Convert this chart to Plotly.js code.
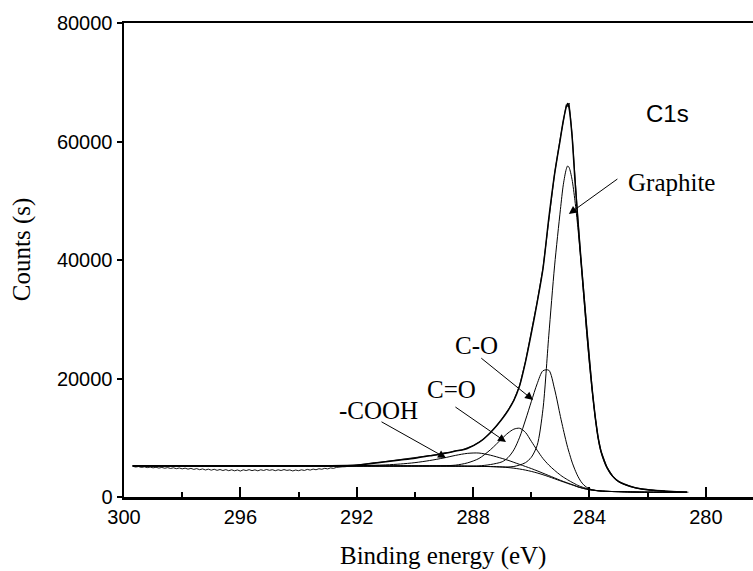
<!DOCTYPE html>
<html>
<head>
<meta charset="utf-8">
<script src="https://cdn.plot.ly/plotly-3.0.1.min.js"></script>
<style>html,body{margin:0;padding:0;background:#fff;}#chart{width:753px;height:571px;}</style>
</head>
<body>
<div id="chart"></div>
<script>
// Binding energy grid of the fitted curves (eV)
const energy = [299.7, 299, 298, 297, 296, 295, 294, 293, 292, 291, 290.5, 290, 289.5, 289, 288.6, 288.2, 287.8, 287.4, 287.0, 286.8, 286.6, 286.4, 286.2, 286.0, 285.8, 285.6, 285.4, 285.2, 285.0, 284.9, 284.8, 284.75, 284.7, 284.6, 284.5, 284.4, 284.3, 284.2, 284.1, 284.0, 283.9, 283.8, 283.7, 283.6, 283.4, 283.2, 283.0, 282.6, 282.2, 281.8, 281.4, 281.0, 280.65];

// Shirley-type background
const background = [5250, 5250, 5245, 5240, 5240, 5235, 5235, 5230, 5230, 5230, 5230, 5230, 5230, 5225, 5215, 5195, 5170, 5130, 5050, 4970, 4860, 4720, 4540, 4320, 4060, 3760, 3430, 3080, 2720, 2550, 2380, 2295, 2210, 2050, 1880, 1700, 1560, 1430, 1320, 1220, 1150, 1090, 1040, 1000, 950, 920, 900, 850, 820, 805, 795, 790, 785];

// -COOH component (on background)
const cooh = [5250, 5250, 5245, 5240, 5240, 5235, 5240, 5250, 5290, 5420, 5570, 5800, 6150, 6600, 7030, 7360, 7420, 7050, 6500, 6200, 5850, 5500, 5150, 4800, 4420, 4020, 3620, 3220, 2820, 2630, 2450, 2360, 2270, 2100, 1920, 1730, 1585, 1450, 1335, 1232, 1158, 1095, 1044, 1003, 952, 921, 901, 850, 820, 805, 795, 790, 785];

// C=O component
const cdo = [5250, 5250, 5245, 5240, 5240, 5235, 5235, 5230, 5230, 5230, 5230, 5235, 5245, 5275, 5380, 5750, 6500, 8000, 9900, 10800, 11450, 11600, 10900, 9400, 7900, 6500, 5400, 4500, 3700, 3350, 3050, 2900, 2760, 2480, 2220, 1960, 1760, 1590, 1440, 1310, 1210, 1130, 1070, 1020, 960, 925, 903, 850, 820, 805, 795, 790, 785];

// C-O component
const co = [5250, 5250, 5245, 5240, 5240, 5235, 5235, 5230, 5230, 5230, 5230, 5230, 5230, 5225, 5215, 5210, 5250, 5480, 5950, 6650, 7950, 10100, 13000, 16100, 19100, 21300, 21400, 18200, 13600, 11400, 9300, 8350, 7500, 5900, 4600, 3500, 2650, 2050, 1650, 1380, 1220, 1120, 1055, 1012, 955, 922, 902, 850, 820, 805, 795, 790, 785];

// Graphite component
const graphite = [5250, 5250, 5245, 5240, 5240, 5235, 5235, 5230, 5230, 5230, 5230, 5230, 5230, 5225, 5215, 5195, 5170, 5140, 5080, 5070, 5150, 5400, 5800, 6700, 8700, 14800, 27200, 39000, 48500, 52700, 55300, 55870, 55600, 53600, 50000, 45500, 40000, 34000, 28000, 22500, 17500, 13200, 9800, 7500, 4900, 3400, 2550, 1750, 1320, 1100, 960, 860, 800];

// Sum of the fit (envelope)
const envelope = [5250, 5250, 5250, 5250, 5250, 5250, 5255, 5275, 5400, 5950, 6250, 6550, 6950, 7350, 7750, 8200, 9200, 10900, 13200, 14600, 16300, 18800, 22800, 27600, 32800, 38500, 47000, 54500, 60500, 63500, 65800, 66400, 65600, 61000, 53500, 46800, 40500, 34500, 28400, 22800, 17800, 13400, 9950, 7650, 5000, 3480, 2620, 1800, 1350, 1130, 990, 880, 800];

// Measured spectrum
const rawEnergy = [299.7, 299.6, 299.5, 299.4, 299.3, 299.2, 299.1, 299.0, 298.9, 298.8, 298.7, 298.6, 298.5, 298.4, 298.3, 298.2, 298.1, 298.0, 297.9, 297.8, 297.7, 297.6, 297.5, 297.4, 297.3, 297.2, 297.1, 297.0, 296.9, 296.8, 296.7, 296.6, 296.5, 296.4, 296.3, 296.2, 296.1, 296.0, 295.9, 295.8, 295.7, 295.6, 295.5, 295.4, 295.3, 295.2, 295.1, 295.0, 294.9, 294.8, 294.7, 294.6, 294.5, 294.4, 294.3, 294.2, 294.1, 294.0, 293.9, 293.8, 293.7, 293.6, 293.5, 293.4, 293.3, 293.2, 293.1, 293.0, 292.9, 292.8, 292.7, 292.6, 292.5, 292.4, 292.3, 292.2, 292.1,
  292.0, 291.8, 291.6, 291.4, 291.2, 291.0, 290.8, 290.6, 290.4, 290.2, 290.0, 289.8, 289.6, 289.4, 289.2, 289.0, 288.8, 288.6, 288.4, 288.2, 288.0, 287.8, 287.6, 287.4, 287.2, 287.0, 286.8, 286.6, 286.4, 286.2, 286.0, 285.8, 285.6, 285.4, 285.2, 285.0, 284.9, 284.8, 284.75, 284.7, 284.6, 284.5, 284.4, 284.3, 284.2, 284.1, 284.0, 283.9, 283.8, 283.7, 283.6, 283.4, 283.2, 283.0, 282.8, 282.6, 282.4, 282.2, 282.0, 281.8, 281.6, 281.4, 281.2, 281.0, 280.8, 280.6];
const rawCounts = [5180, 5060, 5140, 4990, 5090, 4960, 5050, 4920, 5020, 4880, 4990, 4850, 4960, 4820, 4930, 4780, 4900, 4750, 4870, 4700, 4830, 4660, 4790, 4610, 4740, 4560, 4700, 4530, 4680, 4500, 4640, 4470, 4620, 4440, 4590, 4420, 4560, 4380, 4590, 4460, 4620, 4450, 4580, 4420, 4600, 4480, 4640, 4500, 4610, 4440, 4590, 4470, 4630, 4490, 4570, 4400, 4550, 4440, 4590, 4480, 4660, 4540, 4710, 4600, 4770, 4680, 4840, 4740, 4910, 4830, 4990, 4980, 5090, 5110, 5210, 5220, 5310,
  5360, 5520, 5640, 5800, 5870, 6000, 6120, 6180, 6360, 6430, 6600, 6680, 6880, 7000, 7180, 7450, 7520, 7820, 7900, 8300, 8650, 9250, 9950, 10950, 11950, 13250, 14650, 16350, 18850, 22900, 27700, 32900, 38600, 47100, 54600, 60700, 63800, 66200, 65900, 66500, 61300, 53700, 47000, 40600, 34600, 28500, 22900, 17900, 13500, 10000, 7700, 5050, 3520, 2650, 2150, 1820, 1560, 1370, 1230, 1140, 1060, 1000, 930, 890, 840, 810];

const peakLabels = ['Graphite', 'C-O', 'C=O', '-COOH'];
const spectrumLabel = 'C1s';
const xTitle = 'Binding energy (eV)';
const yTitle = 'Counts (s)';

const serif = 'Times New Roman, Liberation Serif, serif';
const sans = 'Arial, Liberation Sans, sans-serif';

function fitTrace(y, w) {
  return {x: energy, y: y, type: 'scatter', mode: 'lines',
    line: {color: '#000', width: w, shape: 'spline', smoothing: 0.8}, hoverinfo: 'skip'};
}

const traces = [
  fitTrace(background, 1),
  fitTrace(cooh, 1),
  fitTrace(cdo, 1),
  fitTrace(co, 1),
  fitTrace(graphite, 1),
  {x: rawEnergy, y: rawCounts, type: 'scatter', mode: 'lines', line: {color: '#000', width: 0.9}, hoverinfo: 'skip'},
  fitTrace(envelope, 1.5)
];

// label text positions [x, y] in data units and arrow [headX, headY, tailX, tailY]
const labelPos = [[281.19, 53000], [287.87, 25490], [288.76, 18060], [291.25, 14520]];
const arrowPos = [[284.71, 47770, 282.99, 53850], [285.94, 16370, 287.77, 23630], [286.87, 9280, 288.66, 15360], [288.93, 6580, 291.20, 12830]];

const annotations = [];
peakLabels.forEach((t, i) => {
  annotations.push({x: labelPos[i][0], y: labelPos[i][1], xref: 'x', yref: 'y', text: t, showarrow: false,
    font: {family: serif, size: 25, color: '#000'}, xanchor: 'center', yanchor: 'middle'});
  annotations.push({x: arrowPos[i][0], y: arrowPos[i][1], ax: arrowPos[i][2], ay: arrowPos[i][3],
    xref: 'x', yref: 'y', axref: 'x', ayref: 'y', text: '', showarrow: true,
    arrowhead: 2, arrowsize: 1.6, arrowwidth: 1, arrowcolor: '#000', standoff: 0, startstandoff: 0});
});
annotations.push({x: 281.31, y: 64650, xref: 'x', yref: 'y', text: spectrumLabel, showarrow: false,
  font: {family: sans, size: 24, color: '#000'}, xanchor: 'center', yanchor: 'middle'});
annotations.push({x: 0.507, y: -0.124, xref: 'paper', yref: 'paper', text: xTitle, showarrow: false,
  font: {family: serif, size: 25, color: '#000'}, xanchor: 'center', yanchor: 'middle'});
annotations.push({x: -0.162, y: 0.521, xref: 'paper', yref: 'paper', text: yTitle, showarrow: false, textangle: -90,
  font: {family: serif, size: 25, color: '#000'}, xanchor: 'center', yanchor: 'middle'});

const layout = {
  width: 753, height: 571,
  margin: {l: 124, r: 0, t: 23, b: 74, pad: 0},
  showlegend: false,
  font: {family: sans, color: '#000'},
  xaxis: {
    range: [300, 278.38], dtick: 4, tick0: 280,
    ticks: 'inside', ticklen: 10, tickwidth: 2, tickcolor: '#000',
    showline: true, linewidth: 2.5, linecolor: '#000', mirror: true,
    showgrid: false, zeroline: false,
    tickfont: {family: sans, size: 20, color: '#000'},
    minor: {ticks: 'inside', ticklen: 5, tickwidth: 2, tickcolor: '#000', dtick: 2}
  },
  yaxis: {
    range: [0, 80000], dtick: 20000, tickformat: 'd',
    ticks: 'outside', ticklen: 5, tickwidth: 2, tickcolor: '#000',
    showline: true, linewidth: 2.5, linecolor: '#000',
    showgrid: false, zeroline: false,
    tickfont: {family: sans, size: 20, color: '#000'}
  },
  annotations: annotations
};

Plotly.newPlot('chart', traces, layout, {staticPlot: true, displayModeBar: false});
</script>
</body>
</html>
